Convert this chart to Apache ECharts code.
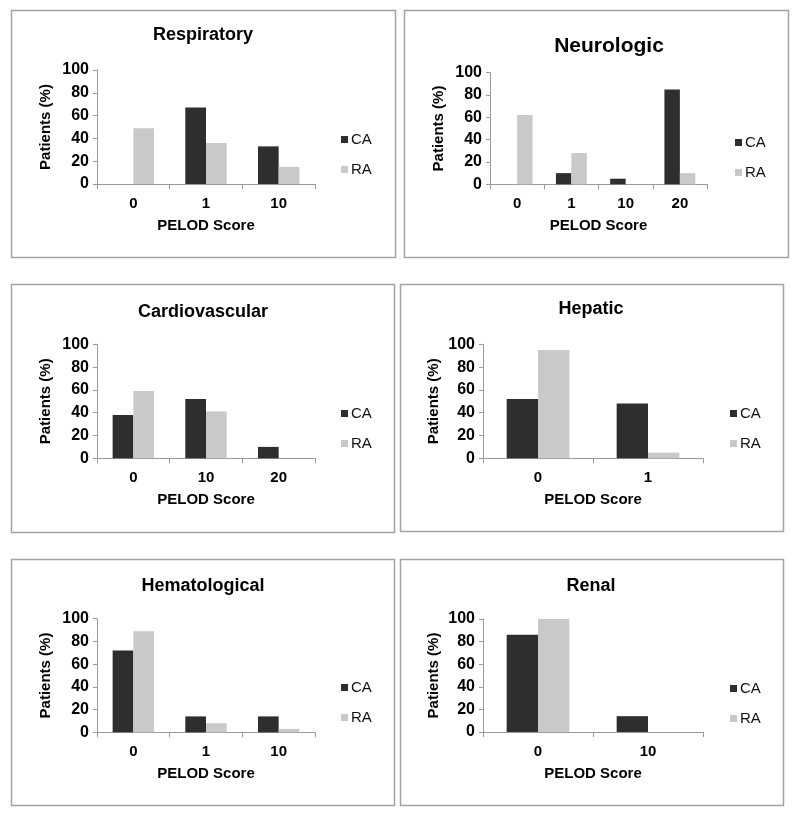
<!DOCTYPE html>
<html>
<head>
<meta charset="utf-8">
<script src="https://cdn.jsdelivr.net/npm/echarts@6/dist/echarts.min.js"></script>
<style>
html,body{margin:0;padding:0;background:#fff;}
#c{width:800px;height:818px;}
</style>
</head>
<body>
<div id="c"></div>
<script>
// ---- data ----
const seriesNames = ['CA', 'RA'];
const yTicks = [0, 20, 40, 60, 80, 100];

const respTitle = 'Respiratory';
const respCats = ['0', '1', '10'];
const respCA = [0, 67, 33];
const respRA = [49, 36, 15];

const neuroTitle = 'Neurologic';
const neuroCats = ['0', '1', '10', '20'];
const neuroCA = [0, 10, 5, 85];
const neuroRA = [62, 28, 0, 10];

const cardioTitle = 'Cardiovascular';
const cardioCats = ['0', '10', '20'];
const cardioCA = [38, 52, 10];
const cardioRA = [59, 41, 0];

const hepTitle = 'Hepatic';
const hepCats = ['0', '1'];
const hepCA = [52, 48];
const hepRA = [95, 5];

const hemTitle = 'Hematological';
const hemCats = ['0', '1', '10'];
const hemCA = [72, 14, 14];
const hemRA = [89, 8, 3];

const renTitle = 'Renal';
const renCats = ['0', '10'];
const renCA = [86, 14];
const renRA = [100, 0];

const xName = 'PELOD Score';
const yName = 'Patients (%)';

// ---- layout / style ----
const FONT = 'Liberation Sans, Arial, Helvetica, sans-serif';
const CA_COLOR = '#2e2e2e';
const RA_COLOR = '#c9c9c9';
const AXIS_COLOR = '#9a9a9a';

const panels = [
  {title: respTitle, cats: respCats, ca: respCA, ra: respRA, titleX: 203, titleTop: 26, titleSize: 18,
   grid: {left: 97, top: 70, width: 218, height: 114}, legend: {left: 341, top: 132}, yGap: 44, box: [11, 10, 384, 247]},
  {title: neuroTitle, cats: neuroCats, ca: neuroCA, ra: neuroRA, titleX: 609, titleTop: 36, titleSize: 21,
   grid: {left: 490, top: 72.7, width: 217, height: 111.6}, legend: {left: 735, top: 135}, yGap: 44, box: [404, 10, 384, 247]},
  {title: cardioTitle, cats: cardioCats, ca: cardioCA, ra: cardioRA, titleX: 203, titleTop: 303, titleSize: 18,
   grid: {left: 97, top: 344.3, width: 218, height: 114}, legend: {left: 341, top: 406}, yGap: 44, box: [11, 284, 383, 248]},
  {title: hepTitle, cats: hepCats, ca: hepCA, ra: hepRA, titleX: 591, titleTop: 300, titleSize: 18,
   grid: {left: 483, top: 344.3, width: 220, height: 114}, legend: {left: 730, top: 406}, yGap: 42, box: [400, 284, 383, 247]},
  {title: hemTitle, cats: hemCats, ca: hemCA, ra: hemRA, titleX: 203, titleTop: 577, titleSize: 18,
   grid: {left: 97, top: 618.7, width: 218, height: 113.6}, legend: {left: 341, top: 680}, yGap: 44, box: [11, 559, 383, 246]},
  {title: renTitle, cats: renCats, ca: renCA, ra: renRA, titleX: 591, titleTop: 577, titleSize: 18,
   grid: {left: 483, top: 619, width: 220, height: 113}, legend: {left: 730, top: 681}, yGap: 42, box: [400, 559, 383, 246]}
];

const option = {
  animation: false,
  backgroundColor: '#fff',
  textStyle: {fontFamily: FONT},
  title: [], legend: [], grid: [], xAxis: [], yAxis: [], series: [], graphic: []
};

panels.forEach((p, i) => {
  option.graphic.push({
    type: 'rect', silent: true, z: -1,
    shape: {x: p.box[0] + 0.5, y: p.box[1] + 0.5, width: p.box[2], height: p.box[3]},
    style: {fill: '#fff', stroke: '#a3a3a3', lineWidth: 1.5}
  });
  option.title.push({
    text: p.title, left: p.titleX, top: p.titleTop, textAlign: 'center', padding: 0,
    textStyle: {fontFamily: FONT, fontWeight: 'bold', fontSize: p.titleSize, color: '#000'}
  });
  option.legend.push({
    data: seriesNames, orient: 'vertical', left: p.legend.left, top: p.legend.top, padding: 0,
    icon: 'rect', itemWidth: 7, itemHeight: 7, itemGap: 15,
    textStyle: {fontFamily: FONT, fontSize: 15, color: '#111', padding: [0, 0, 0, -2]}
  });
  option.grid.push(Object.assign({containLabel: false}, p.grid));
  option.xAxis.push({
    type: 'category', gridIndex: i, data: p.cats,
    name: xName, nameLocation: 'middle', nameGap: 34,
    nameTextStyle: {fontFamily: FONT, fontWeight: 'bold', fontSize: 15, color: '#000'},
    axisLine: {lineStyle: {color: AXIS_COLOR, width: 1}},
    axisTick: {show: true, length: 5, lineStyle: {color: AXIS_COLOR}},
    axisLabel: {fontFamily: FONT, fontWeight: 'bold', fontSize: 15, color: '#000', margin: 12},
    splitLine: {show: false}
  });
  option.yAxis.push({
    type: 'value', gridIndex: i, min: 0, max: 100, interval: 20,
    name: yName, nameLocation: 'middle', nameGap: p.yGap, nameRotate: 90,
    nameTextStyle: {fontFamily: FONT, fontWeight: 'bold', fontSize: 15, color: '#000'},
    axisLine: {show: true, lineStyle: {color: AXIS_COLOR, width: 1}},
    axisTick: {show: true, length: 4, lineStyle: {color: AXIS_COLOR}},
    axisLabel: {fontFamily: FONT, fontWeight: 'bold', fontSize: 16, color: '#000', margin: 8},
    splitLine: {show: false}
  });
  option.series.push({
    type: 'bar', name: seriesNames[0], xAxisIndex: i, yAxisIndex: i, data: p.ca,
    itemStyle: {color: CA_COLOR}, barGap: '0%', barCategoryGap: '43%'
  });
  option.series.push({
    type: 'bar', name: seriesNames[1], xAxisIndex: i, yAxisIndex: i, data: p.ra,
    itemStyle: {color: RA_COLOR}, barGap: '0%', barCategoryGap: '43%'
  });
});

const chart = echarts.init(document.getElementById('c'), null, {renderer: 'canvas'});
chart.setOption(option);
</script>
</body>
</html>
